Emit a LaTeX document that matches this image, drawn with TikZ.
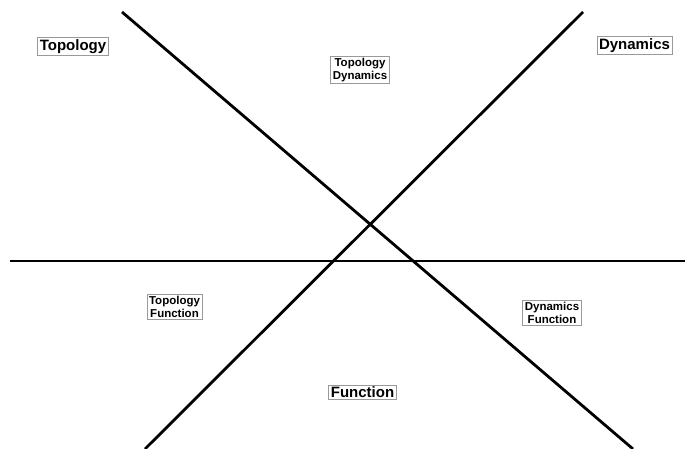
\documentclass[tikz,border=0pt]{standalone}
\usepackage{fontspec}
\setmainfont{Liberation Sans}
\begin{document}
\begin{tikzpicture}[x=1pt,y=-1pt,
  lbl/.style={draw=gray!80, line width=0.7pt, inner xsep=2pt, inner ysep=1.8pt, font=\bfseries\fontsize{15}{17}\selectfont},
  slbl/.style={draw=gray!80, line width=0.7pt, inner xsep=2.2pt, inner ysep=1.8pt, align=center, font=\bfseries\fontsize{11.5}{12.8}\selectfont},
  axis/.style={line width=2.8pt}]
\useasboundingbox (0,0) rectangle (685,449);
\coordinate (a1) at (122,12);
\coordinate (a2) at (633,449);
\coordinate (b1) at (583,12);
\coordinate (b2) at (145,449);
\coordinate (h1) at (10,261);
\coordinate (h2) at (685,261);
\draw[axis] (a1) -- (a2);
\draw[axis] (b1) -- (b2);
\draw[axis] (h1) -- (h2);
\node[lbl] (top) at (73,46.5) {Topology};
\node[lbl] (dyn) at (634.5,45.5) {Dynamics};
\node[lbl] (fun) at (362.5,392.5) {Function};
\node[slbl] (td) at (360,70) {Topology\\Dynamics};
\node[slbl] (tf) at (174.5,306.5) {Topology\\Function};
\node[slbl] (df) at (552,313) {Dynamics\\Function};
\end{tikzpicture}
\end{document}
